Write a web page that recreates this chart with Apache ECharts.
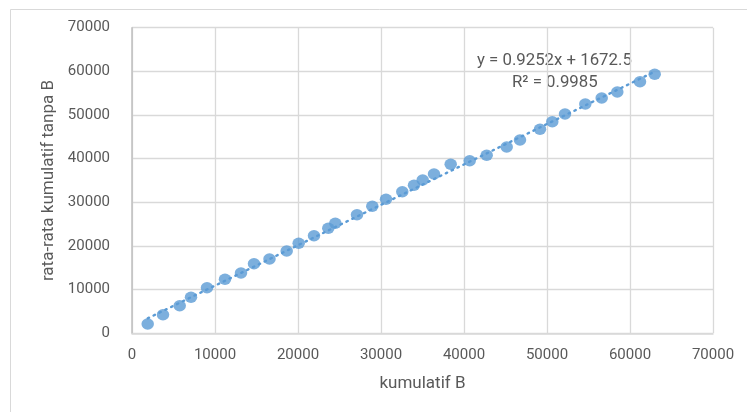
<!DOCTYPE html>
<html>
<head>
<meta charset="utf-8">
<script src="https://cdn.jsdelivr.net/npm/echarts@6/dist/echarts.min.js"></script>
<style>html,body{margin:0;padding:0;background:#fff}#c{width:747px;height:412px}</style>
</head>
<body>
<div id="c"></div>
<script>
const xValues = [1892, 3735, 5747, 7108, 9036, 11205, 13132, 14699, 16566, 18638, 20084, 21927, 23650, 24494, 27108, 28951, 30602, 32566, 33975, 35024, 36385, 38397, 40686, 42734, 45144, 46746, 49156, 50638, 52168, 54614, 56589, 58469, 61204, 62975];
const yValues = [2130, 4260, 6322, 8246, 10445, 12369, 13812, 15943, 17019, 18852, 20615, 22356, 24051, 25197, 27167, 29091, 30694, 32435, 33901, 35115, 36489, 38711, 39535, 40773, 42675, 44277, 46728, 48469, 50233, 52524, 53898, 55272, 57632, 59327];
const slope = 0.9252, intercept = 1672.5, r2 = 0.9985;
const xTicks = [0, 10000, 20000, 30000, 40000, 50000, 60000, 70000];
const yTicks = [0, 10000, 20000, 30000, 40000, 50000, 60000, 70000];

const points = xValues.map((x, i) => [x, yValues[i]]);
const xMin = Math.min(...xValues), xMax = Math.max(...xValues);
const trend = [[xMin, slope * xMin + intercept], [xMax, slope * xMax + intercept]];

const font = 'Roboto';
const txt = '#595959';
const grid = '#D9D9D9';
const chart = echarts.init(document.getElementById('c'), null, {renderer: 'canvas'});
chart.setOption({
  animation: false,
  backgroundColor: '#fff',
  graphic: [
    {type: 'rect', left: 8, top: 7, shape: {width: 760, height: 420}, style: {fill: 'none', stroke: '#D9D9D9', lineWidth: 1}, z: -1},
    {type: 'text', left: 477, top: 52, style: {text: 'y = 0.9252x + 1672.5', font: '16.8px Roboto', fill: txt}},
    {type: 'text', left: 512, top: 74, style: {text: 'R² = 0.9985', font: '16.8px Roboto', fill: txt}}
  ],
  grid: {left: 132, top: 27.7, right: 34, bottom: 78.7, containLabel: false},
  xAxis: {
    type: 'value', min: xTicks[0], max: xTicks[xTicks.length - 1], interval: 10000,
    name: 'kumulatif B', nameLocation: 'middle', nameGap: 42,
    nameTextStyle: {color: txt, fontFamily: font, fontSize: 17},
    axisLine: {show: true, lineStyle: {color: grid, width: 1.5}},
    axisTick: {show: false},
    axisLabel: {color: txt, fontFamily: font, fontSize: 15, margin: 14, formatter: v => String(v)},
    splitLine: {show: true, lineStyle: {color: grid, width: 1.3}}
  },
  yAxis: {
    type: 'value', min: yTicks[0], max: yTicks[yTicks.length - 1], interval: 10000,
    name: 'rata-rata kumulatif tanpa B', nameLocation: 'middle', nameGap: 72, nameRotate: 90,
    nameTextStyle: {color: txt, fontFamily: font, fontSize: 17},
    axisLine: {show: true, lineStyle: {color: '#BFBFBF', width: 1.5}},
    axisTick: {show: false},
    axisLabel: {color: txt, fontFamily: font, fontSize: 15, margin: 22, formatter: v => String(v)},
    splitLine: {show: true, lineStyle: {color: grid, width: 1.3}}
  },
  series: [
    {
      type: 'line', data: trend, symbol: 'none', silent: true,
      lineStyle: {color: '#5B9BD5', width: 2.4, type: [1.5, 5], cap: 'round'}, z: 1
    },
    {
      type: 'scatter', data: points, symbol: 'circle', symbolSize: [12.5, 11.5],
      itemStyle: {color: '#5B9BD5'}, z: 2
    }
  ]
});
</script>
</body>
</html>
